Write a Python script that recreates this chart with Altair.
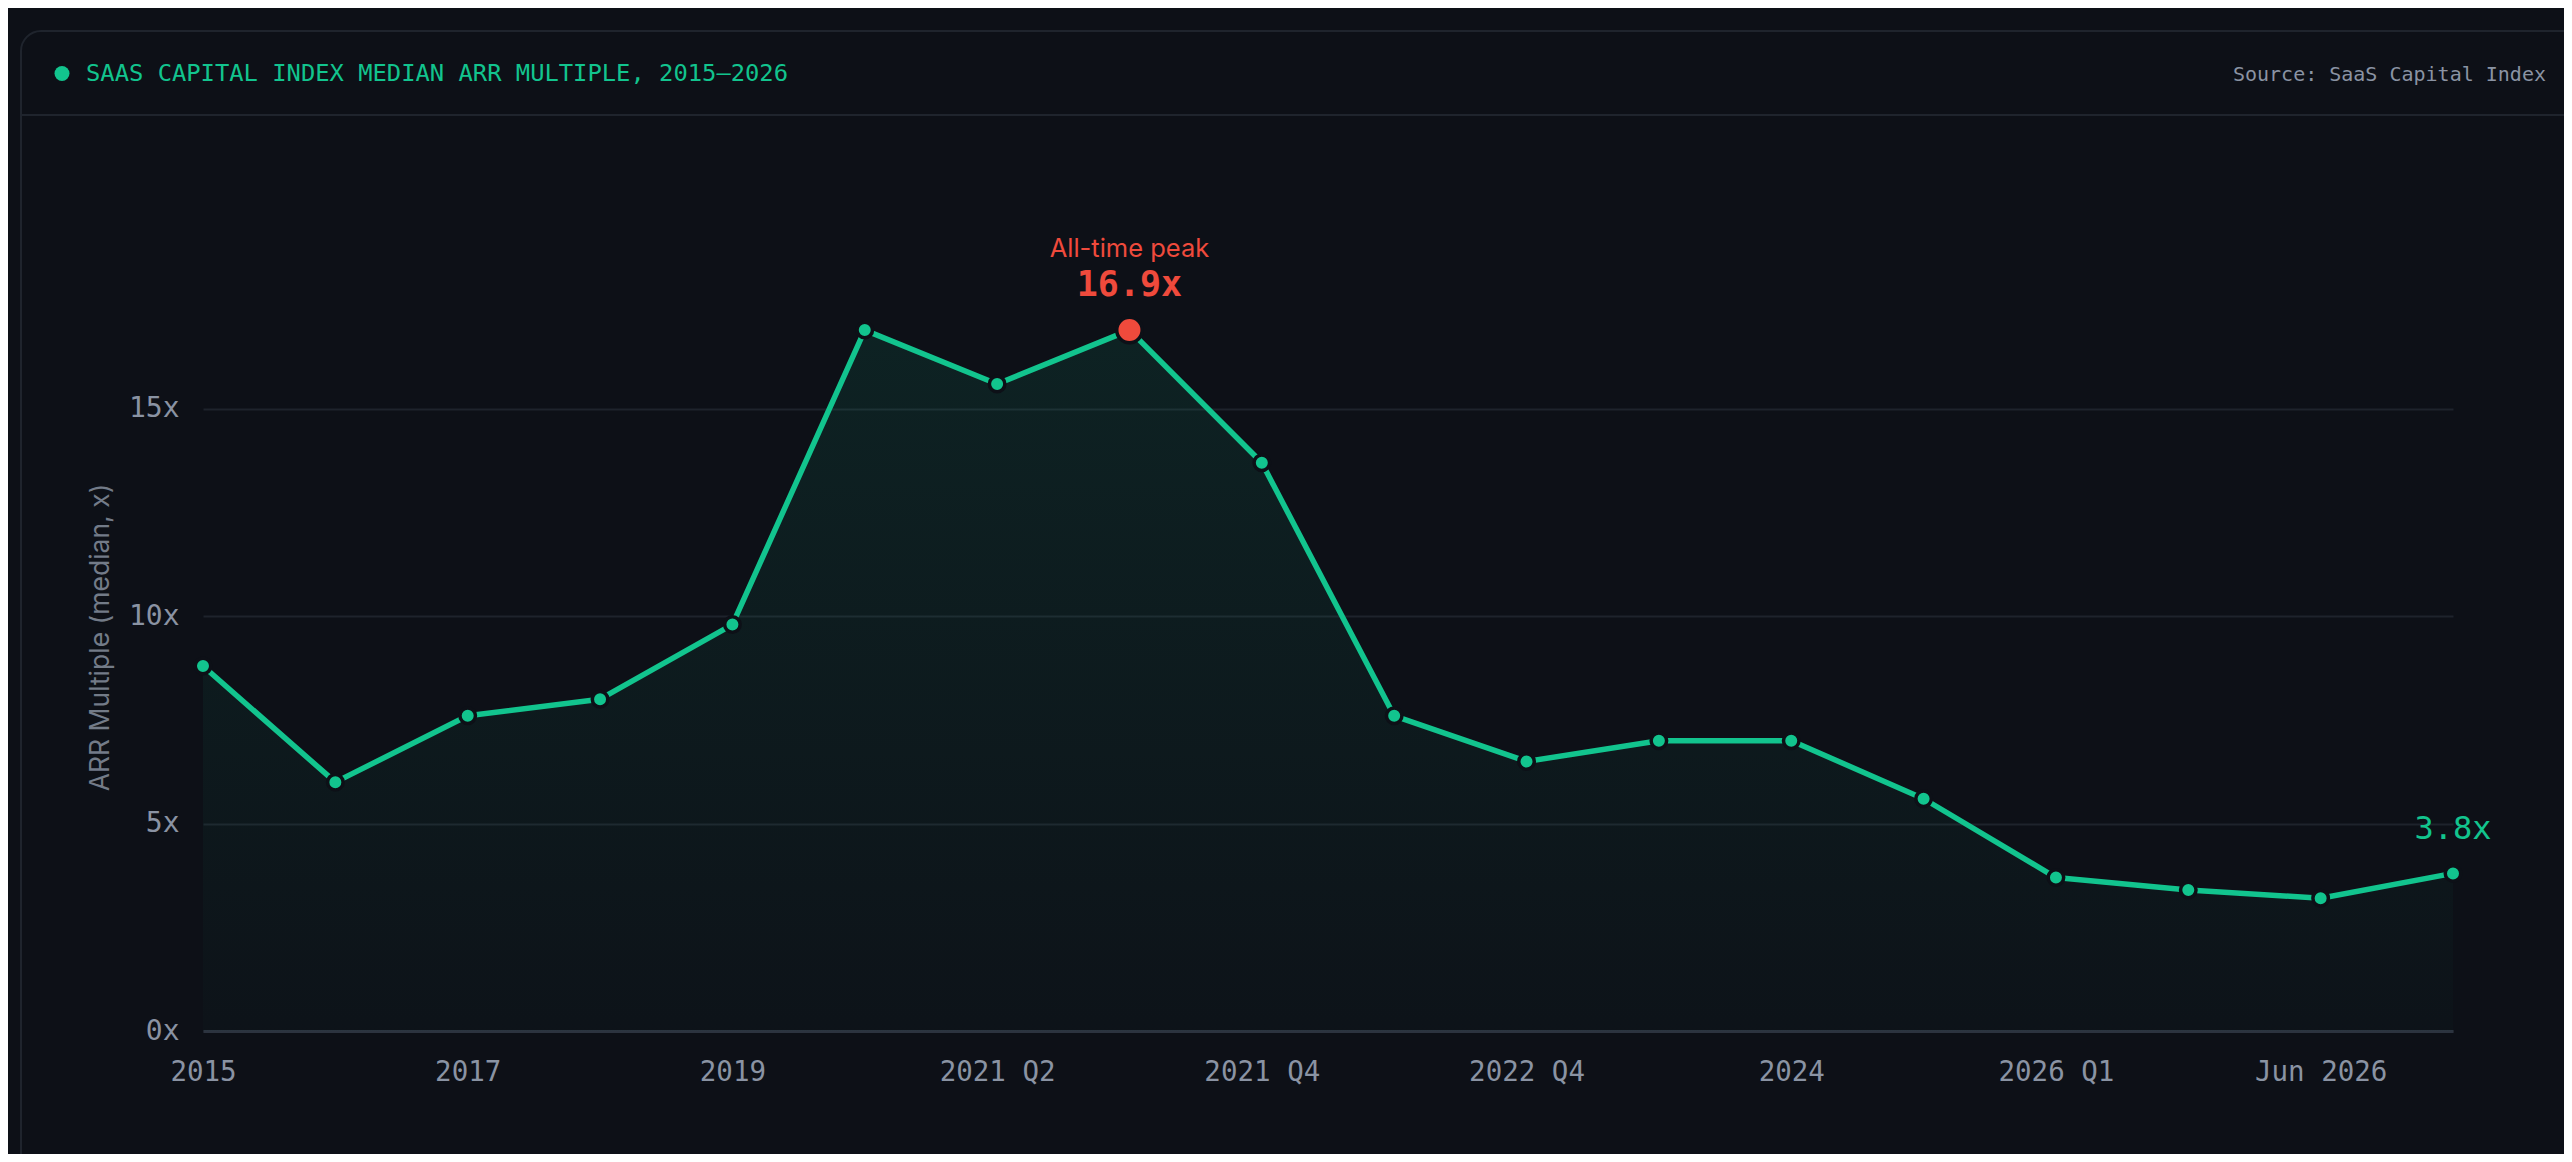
import altair as alt
import pandas as pd

# ---------------- data ----------------
categories = ["2015", "2016", "2017", "2018", "2019", "2021 Q1", "2021 Q2", "2021 Q3",
              "2021 Q4", "2022 Q2", "2022 Q4", "2023", "2024", "2025", "2026 Q1",
              "Apr 2026", "Jun 2026", "Aug 2026"]
values = [8.8, 6.0, 7.6, 8.0, 9.8, 16.9, 15.6, 16.9, 13.7, 7.6, 6.5, 7.0, 7.0, 5.6,
          3.7, 3.4, 3.2, 3.8]
peak_period = "2021 Q3"
x_tick_labels = ["2015", "2017", "2019", "2021 Q2", "2021 Q4", "2022 Q4", "2024",
                 "2026 Q1", "Jun 2026"]
y_ticks = [0, 5, 10, 15]
title_text = "SAAS CAPITAL INDEX MEDIAN ARR MULTIPLE, 2015\u20132026"
source_text = "Source: SaaS Capital Index"
peak_text = "All-time peak"
y_title = "ARR Multiple (median, x)"

# ---------------- style ----------------
BG = "#0d1017"
GREEN = "#12c48e"
RED = "#ef4a3c"
GRID = "#1e232c"
DOMAIN = "#2c333f"
LABEL = "#8a93a3"
TITLE_GREY = "#737b88"
CARD = "#1f242d"
MONO = "DejaVu Sans Mono"
SANS = "Inter"

df = pd.DataFrame({"period": categories, "multiple": values})
df["label"] = df["multiple"].map(lambda v: f"{v:.1f}x")
peak_df = df[df["period"] == peak_period]
last_df = df.iloc[[len(df) - 1]]
one = pd.DataFrame({"k": [0]})

PLOT_W = 2250
PLOT_H = 788
YMAX = 19

x_enc = alt.X(
    "period:O",
    sort=categories,
    scale=alt.Scale(type="point", padding=0),
    axis=alt.Axis(
        values=x_tick_labels, labelAngle=0, ticks=False, grid=False,
        domain=True, domainColor=DOMAIN, domainWidth=3,
        labelPadding=27, labelFont=MONO, labelFontSize=27.5, labelColor=LABEL,
        title=None,
    ),
)
y_enc = alt.Y(
    "multiple:Q",
    scale=alt.Scale(domain=[0, YMAX], nice=False, zero=True),
    axis=alt.Axis(
        values=y_ticks, labelExpr="datum.value + 'x'", ticks=False, domain=False,
        grid=True, gridColor=GRID, gridWidth=2,
        labelPadding=24, labelFont=MONO, labelFontSize=28, labelColor=LABEL,
        title=y_title, titleFont=SANS, titleFontSize=26.5, titleFontWeight="normal",
        titleColor=TITLE_GREY, titleX=-103, titleY=PLOT_H / 2,
        titleAlign="center", titleBaseline="middle", titleAngle=-90,
    ),
)

base = alt.Chart(df).encode(x=x_enc, y=y_enc)

area = base.mark_area(
    interpolate="linear",
    color=alt.Gradient(
        gradient="linear",
        stops=[
            alt.GradientStop(color="rgba(18,196,142,0.10)", offset=0),
            alt.GradientStop(color="rgba(18,196,142,0.015)", offset=1),
        ],
        x1=1, x2=1, y1=0, y2=1,
    ),
)
line = base.mark_line(color=GREEN, strokeWidth=5.5, strokeJoin="round", strokeCap="round")
pts = base.mark_point(filled=True, fill=GREEN, stroke=BG, strokeWidth=3.5,
                      size=240, opacity=1, shape="circle")

peak_pt = alt.Chart(peak_df).mark_point(
    filled=True, fill=RED, stroke=BG, strokeWidth=3.5, size=650, opacity=1, shape="circle"
).encode(x=alt.X("period:O", sort=categories), y="multiple:Q")
peak_val = alt.Chart(peak_df).mark_text(
    font=MONO, fontSize=35, fontWeight="bold", color=RED, dy=-34,
    align="center", baseline="alphabetic",
).encode(x=alt.X("period:O", sort=categories), y="multiple:Q", text="label:N")
peak_lbl = alt.Chart(peak_df).mark_text(
    font=SANS, fontSize=25.5, color=RED, dy=-73, align="center", baseline="alphabetic",
    text=peak_text,
).encode(x=alt.X("period:O", sort=categories), y="multiple:Q")
last_val = alt.Chart(last_df).mark_text(
    font=MONO, fontSize=32, color=GREEN, dy=-34, align="center", baseline="alphabetic",
).encode(x=alt.X("period:O", sort=categories), y="multiple:Q", text="label:N")

# ---------------- card / header decoration ----------------
card = alt.Chart(one).mark_rect(
    cornerRadius=20, fill=BG, fillOpacity=0, stroke=CARD, strokeWidth=2
).encode(x=alt.value(-182), x2=alt.value(2380), y=alt.value(-212), y2=alt.value(1100))
sep = alt.Chart(one).mark_rule(color=CARD, strokeWidth=2).encode(
    x=alt.value(-182), x2=alt.value(2380), y=alt.value(-128)
)
dot = alt.Chart(one).mark_point(
    filled=True, fill=GREEN, size=225, opacity=1, shape="circle", strokeWidth=0
).encode(x=alt.value(-141), y=alt.value(-169.5))
title = alt.Chart(one).mark_text(
    text=title_text, font=MONO, fontSize=23.8, color=GREEN, align="left", baseline="middle"
).encode(x=alt.value(-117), y=alt.value(-169.5))
source = alt.Chart(one).mark_text(
    text=source_text, font=MONO, fontSize=20, color=LABEL, align="right", baseline="middle"
).encode(x=alt.value(2343), y=alt.value(-168.5))

chart = alt.layer(
    card, sep, dot, title, source,
    area, line, pts, peak_pt, peak_val, peak_lbl, last_val,
).properties(
    width=PLOT_W,
    height=PLOT_H,
    background=BG,
    autosize=alt.AutoSizeParams(type="none"),
    padding={"left": 195, "top": 235, "right": 111, "bottom": 123},
).configure_view(stroke=None)

chart.save("out.html", embed_options={"renderer": "svg", "actions": False})
